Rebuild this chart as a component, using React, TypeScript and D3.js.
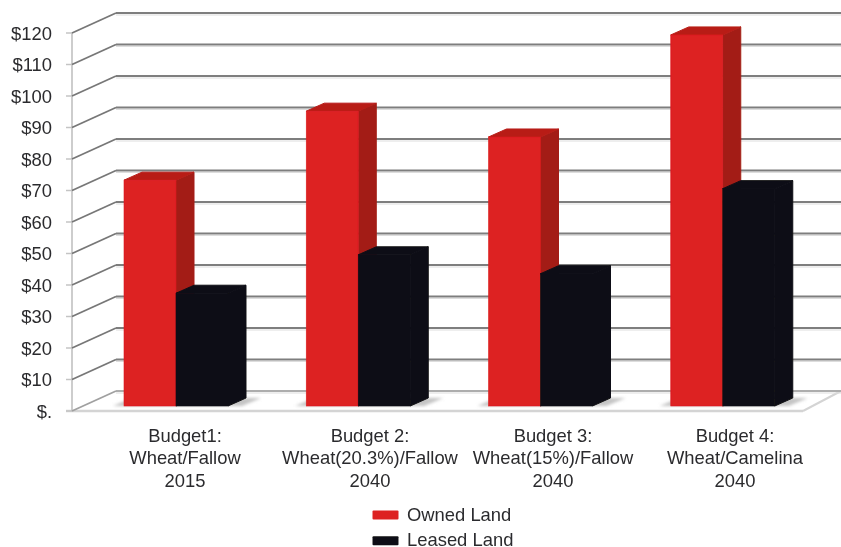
import React from "react";
import * as d3 from "d3";

const categories = ["Budget1:|Wheat/Fallow|2015", "Budget 2:|Wheat(20.3%)/Fallow|2040", "Budget 3:|Wheat(15%)/Fallow|2040", "Budget 4:|Wheat/Camelina|2040"];
const owned = [71.7, 93.6, 85.4, 117.8];
const leased = [35.8, 48, 42, 69];
const ticks = [0, 10, 20, 30, 40, 50, 60, 70, 80, 90, 100, 110, 120];
const legend = [["Owned Land", "#dd2022"], ["Leased Land", "#101014"]];

const W = 841, H = 547;
const y0 = d3.scaleLinear().domain([0, 120]).range([411, 33]); // front wall plane
const DX = 44, DY = -20; // floor depth
const barY = d3.scaleLinear().domain([0, 120]).range([406, 28]);
const x = d3.scaleBand<number>().domain([0, 1, 2, 3]).range([72, 801]);
const BW = 52, bdx = 18, bdy = -8;
const barX = (i: number) => x(i)! + BW;
const left = 72;

function Bar({ x0, v, front, side, top }: { x0: number; v: number; front: string; side: string; top: string }) {
  const t = barY(v), b = barY(0), r = x0 + BW;
  return (
    <g>
      <path d={`M${r},${t}L${r + bdx},${t + bdy}L${r + bdx},${b + bdy}L${r},${b}Z`} fill={side} stroke={side} strokeWidth={1} strokeLinejoin="round" />
      <path d={`M${x0},${t}L${x0 + bdx},${t + bdy}L${r + bdx},${t + bdy}L${r},${t}Z`} fill={top} stroke={top} strokeWidth={1} strokeLinejoin="round" />
      <rect x={x0} y={t} width={BW} height={b - t} fill={front} stroke={front} strokeWidth={0.6} />
    </g>
  );
}

export default function App() {
  return (
    <svg width={W} height={H} style={{ position: "absolute", left: 0, top: 0, background: "#fff" }} fontFamily="Liberation Sans, Arial, sans-serif">
      <defs>
        <filter id="soft" x="-5%" y="-5%" width="110%" height="110%"><feGaussianBlur stdDeviation="0.65" /></filter>
        <filter id="soft2" x="-20%" y="-100%" width="140%" height="300%"><feGaussianBlur stdDeviation="1.5" /></filter>
        <filter id="softT" x="-5%" y="-5%" width="110%" height="110%"><feGaussianBlur stdDeviation="0.35" /></filter>
      </defs>
      <g filter="url(#soft)">
        {/* floor */}
        <line x1={66} x2={803} y1={y0(0)} y2={y0(0)} stroke="#d4d4d4" strokeWidth={2.5} />
        <line x1={803} x2={841} y1={y0(0)} y2={y0(0) + DY} stroke="#d4d4d4" strokeWidth={2} />
        <line x1={left} x2={left} y1={y0(120)} y2={y0(0)} stroke="#bdbdbd" strokeWidth={1.5} />
        {ticks.map((t) => (
          <g key={t}>
            <line x1={left + DX} x2={W} y1={y0(t) + DY} y2={y0(t) + DY} stroke={t === 0 ? "#adadad" : "#7e7e7e"} strokeWidth={2.2} />
            <line x1={left + DX} x2={W} y1={y0(t) + DY + 2} y2={y0(t) + DY + 2} stroke="#dddddd" strokeWidth={1.2} />
            <line x1={left - 6} x2={left} y1={y0(t)} y2={y0(t)} stroke="#c4c4c4" strokeWidth={1.5} />
            <line x1={left} x2={left + DX} y1={y0(t)} y2={y0(t) + DY} stroke={t === 0 ? "#a0a0a0" : "#777777"} strokeWidth={1.8} />
          </g>
        ))}
        {categories.map((_, i) => (
          <path key={i} d={`M${barX(i) - 11},${barY(0)}L${barX(i) + 8},${barY(0) - 8}L${barX(i) + 2 * BW + bdx + 15},${barY(0) - 8}L${barX(i) + 2 * BW + bdx - 4},${barY(0)}Z`} fill="#c4c4c4" filter="url(#soft2)" />
        ))}
        {categories.map((_, i) => (
          <g key={i}>
            <Bar x0={barX(i)} v={owned[i]} front="#dd2022" side="#a31c14" top="#b81b17" />
            <Bar x0={barX(i) + BW} v={leased[i]} front="#101014" side="#101014" top="#101014" />
          </g>
        ))}
        {legend.map(([, c], i) => (
          <rect key={i} x={372.5} y={510.5 + i * 25.7} width={26} height={9} fill={c} rx={1} />
        ))}
      </g>
      <g fill="#2c2c2e" fontSize={18.4} filter="url(#softT)">
        {ticks.map((t) => (
          <text key={t} x={52} y={y0(t)} dy="0.36em" textAnchor="end">{t === 0 ? "$." : `$${t}`}</text>
        ))}
        {categories.map((c, i) => (
          <text key={c} textAnchor="middle">
            {c.split("|").map((line, j) => (
              <tspan key={j} x={[185, 370, 553, 735][i]} y={441.5 + j * 22.5}>{line}</tspan>
            ))}
          </text>
        ))}
        {legend.map(([name], i) => (
          <text key={name} x={407} y={520.5 + i * 25.2}>{name}</text>
        ))}
      </g>
    </svg>
  );
}
